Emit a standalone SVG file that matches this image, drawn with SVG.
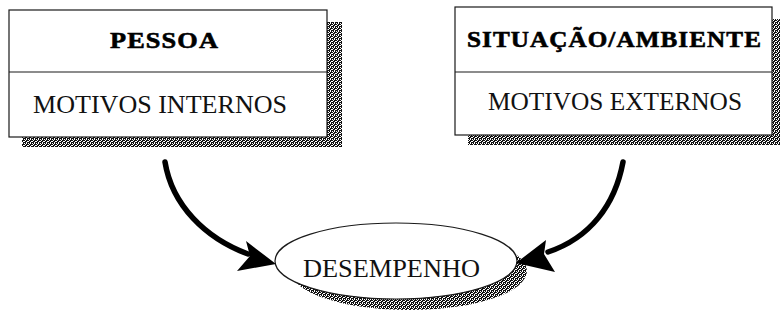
<svg xmlns="http://www.w3.org/2000/svg" width="780" height="326" viewBox="0 0 780 326">
<defs>
<pattern id="stip" width="4" height="4" patternUnits="userSpaceOnUse">
<rect width="4" height="4" fill="#ffffff"/>
<rect x="0" y="0" width="1" height="1" fill="#111"/>
<rect x="2" y="0" width="1" height="1" fill="#111"/>
<rect x="3" y="0" width="1" height="1" fill="#111"/>
<rect x="1" y="1" width="1" height="1" fill="#111"/>
<rect x="2" y="1" width="1" height="1" fill="#111"/>
<rect x="0" y="2" width="1" height="1" fill="#111"/>
<rect x="1" y="2" width="1" height="1" fill="#111"/>
<rect x="3" y="2" width="1" height="1" fill="#111"/>
<rect x="1" y="3" width="1" height="1" fill="#111"/>
<rect x="3" y="3" width="1" height="1" fill="#111"/>
</pattern>
</defs>
<style>
.shadow{fill:url(#stip);}
.box{fill:#fff;stroke:#1a1a1a;stroke-width:1.2;}
.div{stroke:#1a1a1a;stroke-width:1.2;}
.title{font-family:"Liberation Serif","Times New Roman",serif;font-weight:bold;font-size:23.5px;fill:#000;stroke:#000;stroke-width:0.6;}
.sub{font-family:"Liberation Serif","Times New Roman",serif;font-size:25.5px;fill:#111;}
.edge{fill:none;stroke:#000;stroke-width:5.5;stroke-linecap:round;}
.head{fill:#000;}
</style>
<rect width="780" height="326" fill="#fff"/>
<g id="pessoa">
<rect class="shadow" x="22" y="22" width="320" height="125"/>
<rect class="box" x="9" y="10" width="318" height="127"/>
<line class="div" x1="9" y1="72" x2="327" y2="72"/>
<text class="title" x="110" y="48" letter-spacing="1" textLength="109" lengthAdjust="spacingAndGlyphs">PESSOA</text>
<text class="sub" x="33" y="113" textLength="254" lengthAdjust="spacingAndGlyphs">MOTIVOS INTERNOS</text>
</g>
<g id="situacao">
<rect class="shadow" x="468" y="19" width="312" height="126"/>
<rect class="box" x="455" y="7" width="317" height="128"/>
<line class="div" x1="455" y1="72" x2="772" y2="72"/>
<text class="title" x="467" y="47" letter-spacing="1" textLength="295" lengthAdjust="spacingAndGlyphs">SITUAÇÃO/AMBIENTE</text>
<text class="sub" x="488" y="110" textLength="254" lengthAdjust="spacingAndGlyphs">MOTIVOS EXTERNOS</text>
</g>
<g id="desempenho">
<ellipse class="shadow" cx="409" cy="271" rx="118" ry="39"/>
<ellipse class="box" cx="396" cy="261" rx="121" ry="38"/>
<text class="sub" x="303" y="277" font-size="28" textLength="177" lengthAdjust="spacingAndGlyphs">DESEMPENHO</text>
</g>
<g id="connectors">
<path class="edge" d="M165,162 C172,205 205,238 248,254"/>
<polygon class="head" points="276,264 246,241 250,256 237,271"/>
<path class="edge" d="M623,162 C615,205 590,238 548,252"/>
<polygon class="head" points="516,263 546,240 544,254 555,272"/>
</g>
</svg>
